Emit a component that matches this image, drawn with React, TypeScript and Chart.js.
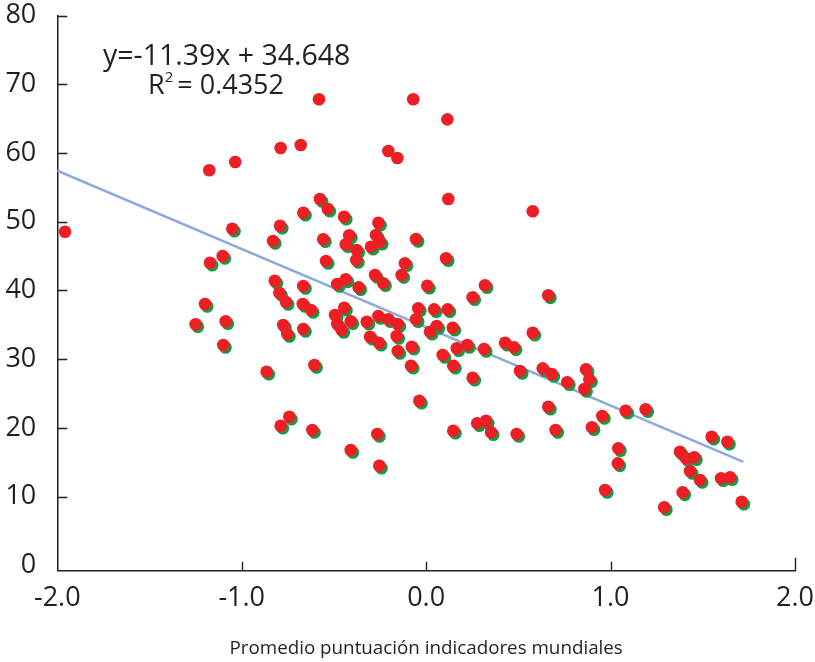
import React, { useEffect, useRef } from 'react';
import { Chart, registerables } from 'chart.js';

Chart.register(...registerables);

// Points drawn with a green shadow
const xShadow = [
  -0.576, -0.534, -0.666, -0.445, -1.051, -0.792, -0.259, -0.558, -0.830, -0.417,
  -0.436, -0.272, -0.299, -0.377, -1.103, -1.172, -0.543, -0.379, -0.277, -0.821,
  -0.666, -0.482, -0.436, -0.366, -0.796, -0.760, -1.199, -0.669, -0.624, -0.444,
  -0.494, -0.482, -0.458, -0.409, -0.322, -0.259, -1.250, -1.087, -0.775, -0.666,
  -0.753, -0.304, -0.250, -0.055, 0.108, -0.115, -0.232, -0.133, 0.006, 0.319,
  0.252, 0.662, -0.043, 0.043, 0.117, -0.055, 0.057, 0.021, 0.144, -0.205,
  -0.154, -0.160, 0.578, -0.256, -0.078, -0.154, 0.090, 0.166, 0.223, 0.314,
  0.428, 0.476, -0.082, 0.147, 0.252, 0.509, 0.632, 0.681, 0.765, -0.037,
  0.662, -0.265, 0.147, 0.277, 0.325, 0.352, 0.491, 0.702, -0.254, -1.100,
  -0.865, -0.606, -0.742, -0.789, -0.617, -0.409, 0.867, 0.885, 0.858, 0.955,
  1.082, 1.190, 0.899, 1.042, 1.039, 0.970, 1.291, 1.391, 1.376, 1.409,
  1.454, 1.431, 1.485, 1.548, 1.633, 1.599, 1.648, 1.711,
];
const yShadow = [
  53.31, 51.90, 51.32, 50.73, 48.99, 49.42, 49.86, 47.45, 47.20, 48.03,
  46.72, 48.07, 46.37, 45.89, 45.01, 44.04, 44.29, 44.43, 42.25, 41.42,
  40.65, 40.94, 41.62, 40.46, 39.67, 38.32, 38.03, 38.03, 37.15, 37.49,
  36.42, 35.11, 34.24, 35.51, 35.45, 36.28, 35.07, 35.51, 34.97, 34.39,
  33.66, 33.26, 47.10, 47.49, 44.68, 43.95, 41.04, 42.25, 40.69, 40.75,
  39.00, 39.29, 37.40, 37.25, 37.25, 35.80, 34.82, 33.99, 34.58, 35.80,
  35.11, 33.37, 33.85, 32.39, 31.81, 31.18, 30.60, 31.58, 32.06, 31.47,
  32.39, 31.72, 29.04, 29.04, 27.30, 28.27, 28.66, 27.84, 26.63, 23.95,
  23.07, 19.10, 19.58, 20.66, 21.04, 19.35, 19.10, 19.68, 14.49, 32.06,
  28.17, 29.15, 21.62, 20.31, 19.68, 16.77, 28.52, 27.06, 25.65, 21.72,
  22.49, 22.70, 20.08, 17.02, 14.83, 10.95, 8.43, 10.61, 16.52, 15.56,
  15.71, 13.71, 12.40, 18.71, 17.98, 12.65, 12.80, 9.24,
];

// Points drawn without shadow
const xPlain = [-1.958, -1.176, -1.035, -0.789, -0.680, -0.581, -0.205, -0.156, -0.070, 0.115, 0.120, 0.578];
const yPlain = [48.55, 57.49, 58.70, 60.74, 61.17, 67.83, 60.30, 59.28, 67.83, 64.91, 53.31, 51.52];

// Trend line
const trendSlope = -11.39;
const trendIntercept = 34.648;
const trendX = [-2, 1.72];

const yTickValues = [0, 10, 20, 30, 40, 50, 60, 70, 80];
const yTickMarks = [10, 20, 30, 40, 50, 60, 70, 80];
const xTickMarks = [-1, 0, 1, 2];
const equationText = 'y=-11.39x + 34.648';
const r2Value = '= 0.4352';
const xAxisTitle = 'Promedio puntuación indicadores mundiales';

const RED = '#ED1F24';
const GREEN = '#169B45';
const LINE = '#8EAADB';
const TEXT = '#231F20';
const FONT = "'Open Sans', 'Noto Sans', sans-serif";

const shadowPlugin = {
  id: 'greenShadow',
  beforeDatasetDraw(chart: any, args: any) {
    if (args.index === 0) {
      const c = chart.ctx;
      c.save();
      c.shadowColor = GREEN;
      c.shadowOffsetX = 2.2;
      c.shadowOffsetY = 2.5;
      c.shadowBlur = 0;
    }
  },
  afterDatasetDraw(chart: any, args: any) {
    if (args.index === 0) chart.ctx.restore();
  },
};

const decorPlugin = {
  id: 'decor',
  afterDraw(chart: any) {
    const c = chart.ctx;
    const xs = chart.scales.x;
    const ys = chart.scales.y;
    const area = chart.chartArea;
    c.save();
    c.strokeStyle = TEXT;
    c.lineWidth = 1.4;
    c.beginPath();
    yTickMarks.forEach((v) => {
      const py = Math.round(ys.getPixelForValue(v)) + 0.5;
      c.moveTo(area.left, py);
      c.lineTo(area.left + 10, py);
    });
    xTickMarks.forEach((v) => {
      const px = Math.round(xs.getPixelForValue(v)) + 0.5;
      c.moveTo(px, area.bottom);
      c.lineTo(px, area.bottom - (v === 2 ? 13 : 9));
    });
    c.stroke();

    // equation annotation
    c.fillStyle = TEXT;
    c.textBaseline = 'alphabetic';
    c.textAlign = 'left';
    c.font = `28.5px ${FONT}`;
    c.fillText(equationText, 103, 65);
    c.font = `27px ${FONT}`;
    c.fillText('R', 148, 94);
    const rw = c.measureText('R').width;
    c.font = `15px ${FONT}`;
    c.fillText('2', 148 + rw, 82);
    const tw = c.measureText('2').width;
    c.font = `27px ${FONT}`;
    c.fillText(r2Value, 148 + rw + tw + 4, 94);
    c.restore();
  },
};

export default function App() {
  const ref = useRef<HTMLCanvasElement | null>(null);
  useEffect(() => {
    if (!ref.current) return;
    const chart = new Chart(ref.current, {
      type: 'scatter',
      data: {
        datasets: [
          {
            label: 'shadowed',
            data: xShadow.map((x, i) => ({ x, y: yShadow[i] })),
            backgroundColor: RED,
            borderWidth: 0,
            pointRadius: 6.3,
          },
          {
            label: 'plain',
            data: xPlain.map((x, i) => ({ x, y: yPlain[i] })),
            backgroundColor: RED,
            borderWidth: 0,
            pointRadius: 6.3,
          },
          {
            type: 'line',
            label: 'trend',
            data: trendX.map((x) => ({ x, y: trendSlope * x + trendIntercept })),
            borderColor: LINE,
            borderWidth: 2.5,
            pointRadius: 0,
            fill: false,
            showLine: true,
          } as any,
        ],
      },
      options: {
        animation: false,
        responsive: false,
        devicePixelRatio: 1,
        layout: { padding: { top: 15.7, right: 20, left: 0, bottom: 0 } },
        plugins: { legend: { display: false }, tooltip: { enabled: false } },
        scales: {
          x: {
            type: 'linear',
            min: -2,
            max: 2,
            ticks: {
              stepSize: 1,
              autoSkip: false,
              maxRotation: 0,
              padding: 13,
              color: TEXT,
              font: { family: FONT, size: 27, lineHeight: 1.1 },
              callback: (v: any) => Number(v).toFixed(1),
            },
            grid: { display: false, drawTicks: false },
            border: { display: true, color: TEXT, width: 1.5 },
            title: {
              display: true,
              text: xAxisTitle,
              color: TEXT,
              font: { family: FONT, size: 18.8 },
              padding: { top: 0, bottom: 2 },
            },
            afterFit: (s: any) => {
              s.height = 91.3;
              s.paddingLeft = 0;
              s.paddingRight = 0;
            },
          },
          y: {
            type: 'linear',
            min: -0.8,
            max: 80,
            afterBuildTicks: (s: any) => {
              s.ticks = yTickValues.map((v) => ({ value: v }));
            },
            ticks: {
              padding: 21,
              color: TEXT,
              font: { family: FONT, size: 27, lineHeight: 1.1 },
            },
            grid: { display: false, drawTicks: false },
            border: { display: true, color: TEXT, width: 1.5 },
            afterFit: (s: any) => {
              s.width = 57.3;
              s.paddingTop = 0;
              s.paddingBottom = 0;
            },
          },
        },
      },
      plugins: [shadowPlugin, decorPlugin],
    });
    return () => chart.destroy();
  }, []);
  return (
    <div style={{ position: 'absolute', left: 0, top: 0, width: 815, height: 662 }}>
      <canvas ref={ref} width={815} height={662} style={{ display: 'block' }} />
    </div>
  );
}
